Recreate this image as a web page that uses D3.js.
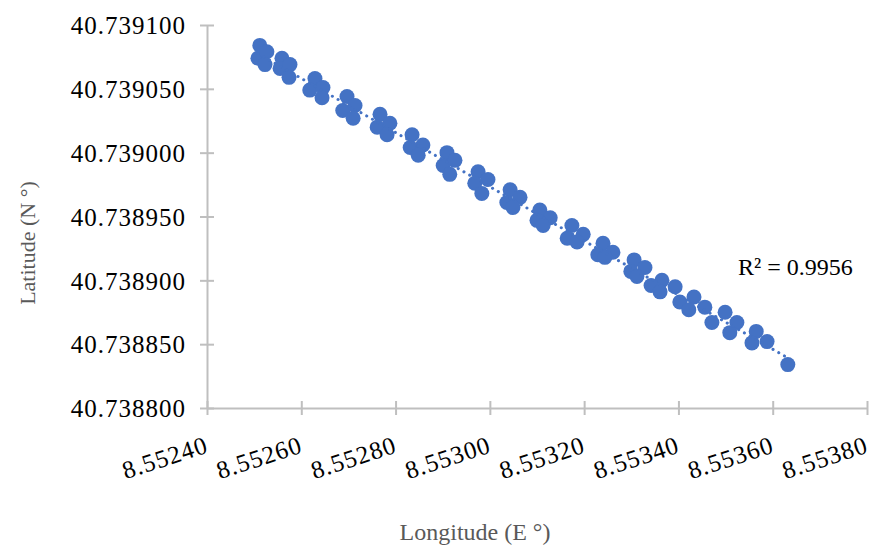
<html>
  <head>
    <style>
      body {
        margin: 0;
        background: #fff;
      }
      svg text {
        font-family: "Liberation Serif", "Times New Roman", Times, "DejaVu Serif", serif !important;
      }
      .axis path,
      .axis line {
        stroke: #bfbfbf;
        stroke-width: 2;
      }
      .axis text {
        font-size: 25px;
        letter-spacing: 1px;
        fill: #000;
      }
    </style>
  </head>
  <body>
    <svg></svg>

    <script src="https://d3js.org/d3.v7.min.js"></script>
    <script>
      let width = 870,
        height = 548;

      // GPS fixes
      let longitude = [
        8.552512, 8.552508, 8.552527, 8.552523,
        8.552559, 8.552555, 8.552576, 8.552574,
        8.552629, 8.552618, 8.552646, 8.552644,
        8.552697, 8.552688, 8.552714, 8.55271,
        8.552767, 8.552761, 8.552788, 8.552782,
        8.552835, 8.552831, 8.552858, 8.552848,
        8.552909, 8.552901, 8.552926, 8.552915,
        8.552975, 8.552968, 8.552996, 8.552983,
        8.553043, 8.553036, 8.553064, 8.553049,
        8.553106, 8.5531, 8.553128, 8.553113,
        8.553174, 8.553164, 8.553198, 8.553185,
        8.55324, 8.553229, 8.553261, 8.553244,
        8.553306, 8.553299, 8.553329, 8.553312,
        8.553365, 8.553342, 8.553393, 8.553361,
        8.553433, 8.553403, 8.553456, 8.553422,
        8.553499, 8.553471, 8.553524, 8.553509,
        8.553565, 8.553556, 8.553588,
        8.553632,
      ];
      let latitude = [
        40.739084, 40.739074, 40.739079, 40.739069,
        40.739074, 40.739066, 40.739069, 40.739059,
        40.739058, 40.739049, 40.739051, 40.739043,
        40.739044, 40.739033, 40.739037, 40.739027,
        40.73903, 40.73902, 40.739023, 40.739014,
        40.739014, 40.739004, 40.739006, 40.738998,
        40.739, 40.73899, 40.738994, 40.738983,
        40.738985, 40.738976, 40.738979, 40.738968,
        40.738971, 40.738961, 40.738965, 40.738957,
        40.738955, 40.738947, 40.738949, 40.738943,
        40.738943, 40.738933, 40.738936, 40.73893,
        40.738929, 40.73892, 40.738922, 40.738918,
        40.738916, 40.738907, 40.73891, 40.738903,
        40.7389, 40.738896, 40.738895, 40.738891,
        40.738887, 40.738883, 40.738879, 40.738877,
        40.738875, 40.738867, 40.738867, 40.738859,
        40.73886, 40.738851, 40.738852,
        40.738834,
      ];

      let xTicks = [8.5524, 8.5526, 8.5528, 8.553, 8.5532, 8.5534, 8.5536, 8.5538];
      let yTicks = [40.7388, 40.73885, 40.7389, 40.73895, 40.739, 40.73905, 40.7391];
      let r2Label = "R² = 0.9956";

      let points = longitude.map((d, i) => ({ x: d, y: latitude[i] }));

      let svg = d3
        .select("svg")
        .attr("width", width)
        .attr("height", height)
        .attr("viewBox", "0 0 " + width + " " + height);

      let x = d3.scaleLinear().domain([8.5524, 8.5538]).range([207, 867]);
      let y = d3.scaleLinear().domain([40.7388, 40.7391]).range([408, 25]);

      // axes, excel style "cross" tick marks
      let xAxis = svg
        .append("g")
        .attr("class", "axis")
        .attr("transform", "translate(0," + y(40.7388) + ")")
        .call(
          d3.axisBottom(x).tickValues(xTicks).tickFormat(d3.format(".5f")).tickSizeOuter(0)
        );
      xAxis.attr("font-family", null);
      xAxis.selectAll(".tick line").attr("y1", -7).attr("y2", 7);
      xAxis
        .selectAll(".tick text")
        .attr("y", 0)
        .attr("dy", 0)
        .attr("text-anchor", "end")
        .attr("transform", "translate(2,44) rotate(-18)");

      let yAxis = svg
        .append("g")
        .attr("class", "axis")
        .attr("transform", "translate(" + x(8.5524) + ",0)")
        .call(
          d3.axisLeft(y).tickValues(yTicks).tickFormat(d3.format(".6f")).tickSizeOuter(0)
        );
      yAxis.attr("font-family", null);
      yAxis.selectAll(".tick line").attr("x1", -7).attr("x2", 7);
      yAxis.selectAll(".tick text").attr("x", -21).attr("dy", "0.35em");

      // linear trendline (least squares)
      let mx = d3.mean(points, (d) => d.x),
        my = d3.mean(points, (d) => d.y);
      let sxy = d3.sum(points, (d) => (d.x - mx) * (d.y - my)),
        sxx = d3.sum(points, (d) => (d.x - mx) * (d.x - mx));
      let slope = sxy / sxx,
        icpt = my - slope * mx;
      let xExt = d3.extent(points, (d) => d.x);

      svg
        .append("g")
        .attr("id", "points")
        .selectAll("circle")
        .data(points)
        .enter()
        .append("circle")
        .attr("cx", (d) => x(d.x))
        .attr("cy", (d) => y(d.y))
        .attr("r", 7.5)
        .attr("fill", "#4472c4");

      svg
        .append("path")
        .datum(xExt.map((v) => ({ x: v, y: icpt + slope * v })))
        .attr(
          "d",
          d3
            .line()
            .x((d) => x(d.x))
            .y((d) => y(d.y))
        )
        .attr("fill", "none")
        .attr("stroke", "#4472c4")
        .attr("stroke-width", 3)
        .attr("stroke-linecap", "round")
        .attr("stroke-dasharray", "0.1 6.5");

      svg
        .append("text")
        .attr("x", 738)
        .attr("y", 275)
        .style("font-size", "24px")
        .attr("fill", "#000")
        .text(r2Label);

      // axis titles
      svg
        .append("text")
        .attr("x", 475)
        .attr("y", 540)
        .attr("text-anchor", "middle")
        .style("font-size", "24px")
        .attr("fill", "#595959")
        .text("Longitude (E °)");

      svg
        .append("text")
        .attr("transform", "translate(35,243) rotate(-90)")
        .attr("text-anchor", "middle")
        .style("font-size", "22px")
        .attr("fill", "#595959")
        .text("Latitude (N °)");
    </script>
  </body>
</html>
